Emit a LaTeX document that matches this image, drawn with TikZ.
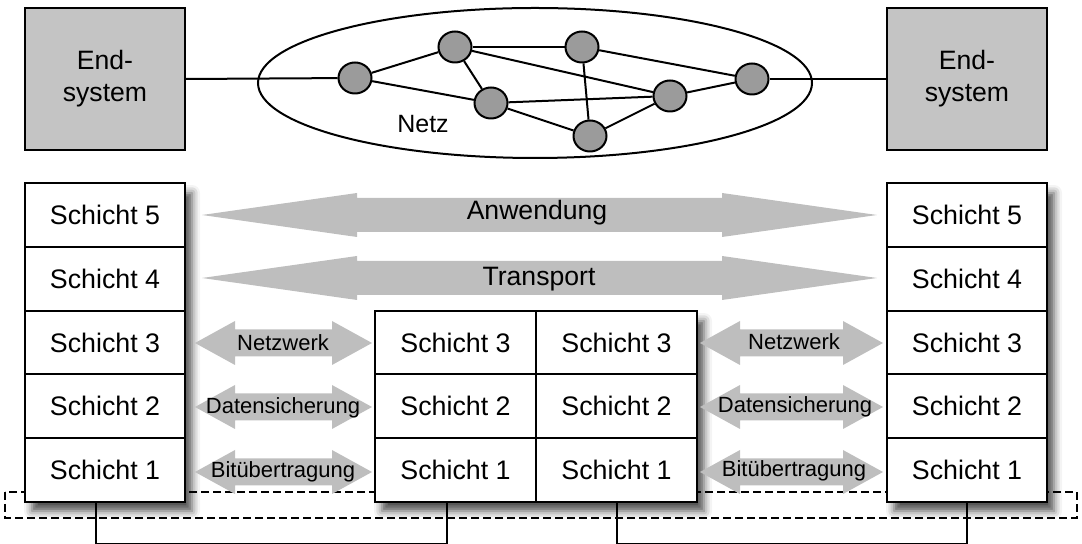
\documentclass[tikz,border=0pt]{standalone}
\usepackage{fontspec}
\setmainfont{Liberation Sans}
\usetikzlibrary{shapes.geometric,shadows.blur,calc}
\definecolor{endfill}{RGB}{196,196,196}
\definecolor{knotfill}{RGB}{155,155,155}
\definecolor{arrfill}{RGB}{190,190,190}
\newcommand{\dblarr}[6]{%
  \fill[arrfill] (#1,#3) -- ({#1+#4},{#3-#5}) -- ({#1+#4},{#3-#6}) -- ({#2-#4},{#3-#6})
   -- ({#2-#4},{#3-#5}) -- (#2,#3) -- ({#2-#4},{#3+#5}) -- ({#2-#4},{#3+#6})
   -- ({#1+#4},{#3+#6}) -- ({#1+#4},{#3+#5}) -- cycle;}
\begin{document}
\begin{tikzpicture}[x=0.5pt,y=-0.5pt,
  endsys/.style={draw, line width=1.1pt, fill=endfill, minimum width=80pt, minimum height=71pt,
    align=center, font=\fontsize{13.3}{16}\selectfont},
  knot/.style={ellipse, draw, line width=1pt, fill=knotfill, minimum width=16.5pt, minimum height=15.5pt, inner sep=0pt},
  layer/.style={draw, line width=1.1pt, fill=white, minimum width=80pt, minimum height=31.8pt,
    inner sep=0pt, font=\fontsize{13.4}{16}\selectfont},
  midlayer/.style={layer, minimum width=80.5pt},
  biglbl/.style={font=\fontsize{13.3}{16}\selectfont, inner sep=0pt},
  smalllbl/.style={font=\fontsize{11}{13}\selectfont, inner sep=0pt},
  link/.style={line width=1pt},
  stackshadow/.style={blur shadow={shadow xshift=3.5pt, shadow yshift=-5pt, shadow blur radius=4pt, shadow opacity=70}}
]
\useasboundingbox (0,0) rectangle (1082,544);

% ---------- top: network ----------
\node[ellipse, draw, line width=1pt, minimum width=277pt, minimum height=75pt] (net) at (535,83) {};
\node[endsys] (es1) at (105,79) {End-\\system};
\node[endsys] (es2) at (967,79) {End-\\system};
\node[font=\fontsize{12.5}{15}\selectfont] (netz) at (423,124) {Netz};

\node[knot] (n1) at (355,78) {};
\node[knot] (n2) at (455,47) {};
\node[knot] (n3) at (582,47) {};
\node[knot] (n4) at (491,103) {};
\node[knot] (n5) at (670,96) {};
\node[knot] (n6) at (590,136) {};
\node[knot] (n7) at (752,79) {};

\draw[link] (es1.east) -- (n1);
\draw[link] (n7) -- (es2.west);
\draw[link] (n1) -- (n2);
\draw[link] (n1) -- (n4);
\draw[link] (n2) -- (n3);
\draw[link] (n2) -- (n4);
\draw[link] (n2) -- (n5);
\draw[link] (n3) -- (n6);
\draw[link] (n3) -- (n7);
\draw[link] (n4) -- (n5);
\draw[link] (n4) -- (n6);
\draw[link] (n6) -- (n5);
\draw[link] (n5) -- (n7);

% ---------- bottom: layers ----------
\path[stackshadow] (25,183) rectangle (185,501);
\path[stackshadow] (375,311) rectangle (697,501);
\path[stackshadow] (887,183) rectangle (1047,501);

\draw[line width=0.6pt, dash pattern=on 4pt off 2pt] (5,492) rectangle (1077,518);

\node[layer] (l5) at (105,215) {Schicht 5};
\node[layer] (l4) at (105,279) {Schicht 4};
\node[layer] (l3) at (105,343) {Schicht 3};
\node[layer] (l2) at (105,406) {Schicht 2};
\node[layer] (l1) at (105,470) {Schicht 1};

\node[layer] (r5) at (967,215) {Schicht 5};
\node[layer] (r4) at (967,279) {Schicht 4};
\node[layer] (r3) at (967,343) {Schicht 3};
\node[layer] (r2) at (967,406) {Schicht 2};
\node[layer] (r1) at (967,470) {Schicht 1};

\node[midlayer] (ma3) at (455.5,343) {Schicht 3};
\node[midlayer] (ma2) at (455.5,406) {Schicht 2};
\node[midlayer] (ma1) at (455.5,470) {Schicht 1};
\node[midlayer] (mb3) at (616.5,343) {Schicht 3};
\node[midlayer] (mb2) at (616.5,406) {Schicht 2};
\node[midlayer] (mb1) at (616.5,470) {Schicht 1};

% arrows
\dblarr{202}{877}{215}{155}{22}{17}
\dblarr{202}{877}{278}{155}{22}{17}
\dblarr{195}{372}{343}{40}{22}{13.5}
\dblarr{195}{372}{407}{40}{22}{13.5}
\dblarr{195}{372}{472}{40}{22}{13.5}
\dblarr{700}{883}{343}{40}{22}{13.5}
\dblarr{700}{883}{407}{40}{22}{13.5}
\dblarr{700}{883}{472}{40}{22}{13.5}

\node[biglbl] (anw) at (537,213) {Anwendung};
\node[biglbl] (trp) at (539,279) {Transport};
\node[smalllbl] (nwl) at (283,343) {Netzwerk};
\node[smalllbl] (dsl) at (283,408) {Datensicherung};
\node[smalllbl] (bul) at (283,472) {Bitübertragung};
\node[smalllbl] (nwr) at (794,342) {Netzwerk};
\node[smalllbl] (dsr) at (795,407) {Datensicherung};
\node[smalllbl] (bur) at (794,471) {Bitübertragung};

% physical links
\draw[link] ([xshift=-4.5pt]l1.south) -- ++(0,41) -| ([xshift=-4.25pt]ma1.south);
\draw[link] (mb1.south) -- ++(0,41) -| (r1.south);
\end{tikzpicture}
\end{document}
